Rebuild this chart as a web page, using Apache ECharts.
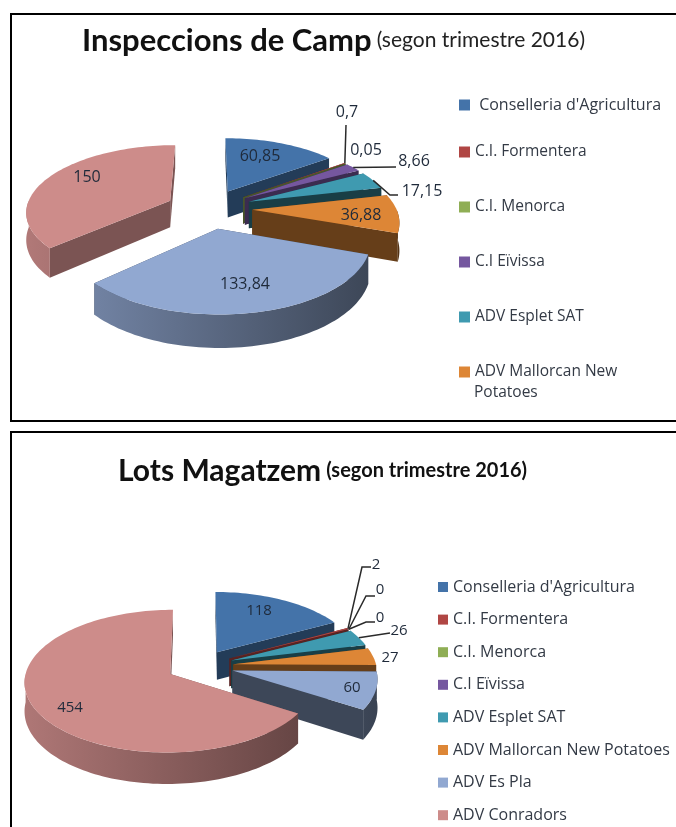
<!DOCTYPE html>
<html>
<head>
<meta charset="utf-8">
<style>
  html, body { margin: 0; padding: 0; background: #fff; }
  #chart { width: 676px; height: 827px; }
</style>
<script src="https://cdn.jsdelivr.net/npm/echarts@6/dist/echarts.min.js"></script>
</head>
<body>
<div id="chart"></div>
<script>
// categories shared by both pies
const categories = [
  'Conselleria d\'Agricultura', 'C.I. Formentera', 'C.I. Menorca', 'C.I Eïvissa',
  'ADV Esplet SAT', 'ADV Mallorcan New Potatoes', 'ADV Es Pla', 'ADV Conradors'
]
const inspeccionsValues = [60.85, 0.7, 0.05, 8.66, 17.15, 36.88, 133.84, 150]
const inspeccionsLabels = ['60,85', '0,7', '0,05', '8,66', '17,15', '36,88', '133,84', '150']
const lotsValues = [118, 2, 0, 0, 26, 27, 60, 454]
const lotsLabels = ['118', '2', '0', '0', '26', '27', '60', '454']
const colors = ['#4473a9', '#b04644', '#8fae55', '#75579f', '#3f9ab0', '#dd8636', '#91a8d1', '#cd8c8a']
// how dark the flat cut side of each slice is
const cutShade = [0.52, 0.5, 0.5, 0.5, 0.4, 0.46, 0.42, 0.6]

// projection of the tilted pie, fitted by eye on the picture
const inspeccionsView = {
  cx: 209, cy: 208.5, rx: 144, ry: 66, depth: 27, persp: 0.15, explode: 0.3,
  shadeFrom: 30, shadeTo: 400, labelSize: 16,
  // label anchor [x, y], leader elbows (empty = no leader)
  labels: [
    { at: [260, 156] },
    { at: [347, 112], leader: [[346, 125]] },
    { at: [366, 150] },
    { at: [414, 161], leader: [[396, 167]] },
    { at: [422, 191], leader: [[390, 195], [398, 195]] },
    { at: [361, 215] },
    { at: [245, 284] },
    { at: [87, 177] }
  ]
}
const lotsView = {
  cx: 200, cy: 666, rx: 143, ry: 69, depth: 28, persp: 0.1, explode: 0.235,
  shadeFrom: 20, shadeTo: 390, labelSize: 15,
  labels: [
    { at: [259, 611] },
    { at: [376, 565], leader: [[362, 567], [371, 567]] },
    { at: [380, 590], leader: [[366, 596], [375, 596]] },
    { at: [380, 618], leader: [[366, 622], [375, 622]] },
    { at: [399, 631], leader: [[390, 633]] },
    { at: [390, 658] },
    { at: [352, 688] },
    { at: [70, 708] }
  ]
}

function shade(hex, k) {
  const n = parseInt(hex.slice(1), 16)
  const r = Math.round((n >> 16 & 255) * k)
  const g = Math.round((n >> 8 & 255) * k)
  const b = Math.round((n & 255) * k)
  return 'rgb(' + r + ',' + g + ',' + b + ')'
}

// build one custom series per slice so the legend can pick them up by name
function pieSeries(values, labels, view) {
  const total = values.reduce((a, b) => a + b, 0)
  let cum = 0
  const slices = values.map((v, i) => {
    const start = cum / total * Math.PI * 2
    cum += v
    const end = cum / total * Math.PI * 2
    return { index: i, value: v, start: start, end: end, mid: (start + end) / 2 }
  })
  // back slices first
  const order = slices.slice().sort((a, b) => -Math.cos(a.mid) + Math.cos(b.mid))
  order.forEach((s, rank) => { s.rank = rank })

  function project(slice, radius, angle, drop) {
    const X = radius * Math.sin(angle) + view.explode * Math.sin(slice.mid)
    const Y = -radius * Math.cos(angle) - view.explode * Math.cos(slice.mid)
    const s = 1 / (1 - view.persp * Y)
    return [view.cx + X * s * view.rx, view.cy + Y * s * view.ry + (drop ? view.depth * s : 0)]
  }

  function arc(slice, from, to, drop) {
    const pts = []
    const steps = Math.max(2, Math.ceil((to - from) / 0.03))
    for (let k = 0; k <= steps; k++) {
      pts.push(project(slice, 1, from + (to - from) * k / steps, drop))
    }
    return pts
  }

  function renderItem(params, api) {
    const slice = slices[params.seriesIndex % values.length]
    const children = []
    const color = colors[slice.index]
    const label = view.labels[slice.index]

    if (api.value(0) > 0) {
      const base = slice.rank * 10
      const apex = project(slice, 0, 0, false)
      const apexLow = project(slice, 0, 0, true)
      ;[slice.start, slice.end].forEach(a => {
        children.push({
          type: 'polygon',
          z2: base,
          shape: { points: [apex, project(slice, 1, a, false), project(slice, 1, a, true), apexLow] },
          style: { fill: shade(color, cutShade[slice.index]) }
        })
      })
      // curved wall, only the part turned to the viewer
      const from = Math.max(slice.start, Math.PI / 2)
      const to = Math.min(slice.end, Math.PI * 1.5)
      if (to > from) {
        children.push({
          type: 'polygon',
          z2: base + 1,
          shape: { points: arc(slice, from, to, false).concat(arc(slice, from, to, true).reverse()) },
          style: {
            fill: {
              type: 'linear',
              global: true,
              x: view.shadeFrom, y: 0, x2: view.shadeTo, y2: 0,
              colorStops: [
                { offset: 0, color: shade(color, 0.86) },
                { offset: 1, color: shade(color, 0.38) }
              ]
            }
          }
        })
      }
      children.push({
        type: 'polygon',
        z2: base + 2,
        shape: { points: [apex].concat(arc(slice, slice.start, slice.end, false)) },
        style: { fill: color }
      })
    }

    if (label.leader) {
      children.push({
        type: 'polyline',
        z2: 900,
        shape: { points: [project(slice, 1, slice.mid, false)].concat(label.leader) },
        style: { fill: null, stroke: '#2a2a2a', lineWidth: 1.5 }
      })
    }
    children.push({
      type: 'text',
      z2: 1000,
      x: label.at[0],
      y: label.at[1],
      style: {
        text: labels[slice.index],
        fontFamily: 'Open Sans',
        fontSize: view.labelSize,
        fill: '#1f2a3a',
        align: 'center',
        verticalAlign: 'middle'
      }
    })
    return { type: 'group', children: children }
  }

  return values.map((v, i) => ({
    type: 'custom',
    name: categories[i],
    coordinateSystem: 'none',
    silent: true,
    animation: false,
    itemStyle: { color: colors[i] },
    data: [[v]],
    renderItem: renderItem
  }))
}

const legendText = { fontFamily: 'Open Sans', fontSize: 15.5, color: '#333a45' }
const legendBase = {
  orient: 'vertical',
  icon: 'rect',
  itemWidth: 11,
  itemHeight: 11,
  selectedMode: false,
  padding: 0,
  textStyle: legendText
}

const chart = echarts.init(document.getElementById('chart'), null, { renderer: 'canvas' })
chart.setOption({
  backgroundColor: '#fff',
  animation: false,
  title: [
    {
      left: 82, top: 25, padding: 0,
      text: '{a|Inspeccions de Camp} {b|(segon trimestre 2016)}',
      textStyle: {
        rich: {
          a: { fontFamily: 'Lato', fontWeight: 'bold', fontSize: 31, color: '#111' },
          b: { fontFamily: 'Lato', fontWeight: 'normal', fontSize: 21, color: '#222' }
        }
      }
    },
    {
      left: 118, top: 456, padding: 0,
      text: '{a|Lots Magatzem} {b|(segon trimestre 2016)}',
      textStyle: {
        rich: {
          a: { fontFamily: 'Lato', fontWeight: 'bold', fontSize: 30, color: '#111' },
          b: { fontFamily: 'Lato', fontWeight: 'bold', fontSize: 20, color: '#111' }
        }
      }
    }
  ],
  legend: [
    Object.assign({}, legendBase, {
      left: 459, top: 97,
      textStyle: Object.assign({}, legendText, { fontSize: 16 }),
      data: categories.slice(0, 1),
      formatter: n => ' ' + n
    }),
    Object.assign({}, legendBase, {
      left: 459, top: 144, itemGap: 39,
      textStyle: Object.assign({}, legendText, { fontSize: 15.5 }),
      data: categories.slice(1, 6),
      formatter: n => n === 'ADV Mallorcan New Potatoes' ? 'ADV Mallorcan New' : n
    }),
    Object.assign({}, legendBase, {
      left: 438, top: 579, itemWidth: 10, itemHeight: 10, itemGap: 16.6,
      textStyle: Object.assign({}, legendText, { fontSize: 16 }),
      data: categories
    })
  ],
  graphic: [
    { type: 'rect', silent: true, z: 100, shape: { x: 11, y: 14, width: 720, height: 407 }, style: { fill: 'none', stroke: '#000', lineWidth: 2 } },
    { type: 'rect', silent: true, z: 100, shape: { x: 11, y: 432, width: 720, height: 440 }, style: { fill: 'none', stroke: '#000', lineWidth: 2 } },
    { type: 'text', silent: true, x: 474, y: 385, style: { text: 'Potatoes', fontFamily: 'Open Sans', fontSize: 15.5, fill: '#333a45' } }
  ],
  series: pieSeries(inspeccionsValues, inspeccionsLabels, inspeccionsView)
    .concat(pieSeries(lotsValues, lotsLabels, lotsView))
})
</script>
</body>
</html>
